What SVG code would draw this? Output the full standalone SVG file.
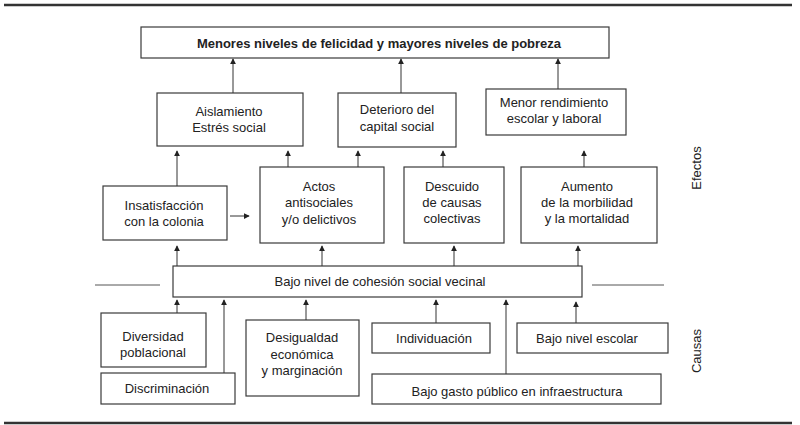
<svg xmlns="http://www.w3.org/2000/svg" width="800" height="425" viewBox="0 0 800 425">
<defs>
<marker id="ah" viewBox="0 0 8 8" refX="7" refY="4" markerWidth="6" markerHeight="6" markerUnits="userSpaceOnUse" orient="auto">
<path d="M0,0 L8,4 L0,8 z" fill="#222"/>
</marker>
<style>
.box{fill:#fff;stroke:#3a3a3a;stroke-width:1.2}
.t{font-family:"Liberation Sans",Arial,sans-serif;font-size:13px;fill:#222;text-anchor:middle}
.b{font-weight:bold}
.c{stroke:#333;stroke-width:1;fill:none;marker-end:url(#ah)}
.rule{stroke:#333;stroke-width:2.5}
.side{stroke:#555;stroke-width:1}
</style>
</defs>
<rect width="800" height="425" fill="#fff"/>
<line class="rule" x1="4" y1="5" x2="792" y2="5"/>
<line class="rule" x1="4" y1="423" x2="792" y2="423"/>

<g id="top"><rect class="box" x="141" y="27" width="468" height="31"/><text class="t b" x="379" y="48">Menores niveles de felicidad y mayores niveles de pobreza</text></g>
<g id="aislamiento"><rect class="box" x="157" y="93" width="146" height="53"/><text class="t" x="229" y="116">Aislamiento</text><text class="t" x="229" y="132">Estrés social</text></g>
<g id="deterioro"><rect class="box" x="338" y="93" width="118" height="54"/><text class="t" x="397" y="114">Deterioro del</text><text class="t" x="397" y="131">capital social</text></g>
<g id="menor"><rect class="box" x="486" y="89" width="140" height="46"/><text class="t" x="554" y="107">Menor rendimiento</text><text class="t" x="554" y="123">escolar y laboral</text></g>

<g id="insatisfaccion"><rect class="box" x="103" y="186" width="124" height="54"/><text class="t" x="164" y="210">Insatisfacción</text><text class="t" x="164" y="226">con la colonia</text></g>
<g id="actos"><rect class="box" x="260" y="167" width="124" height="76"/><text class="t" x="319" y="191">Actos</text><text class="t" x="319" y="207">antisociales</text><text class="t" x="319" y="224">y/o delictivos</text></g>
<g id="descuido"><rect class="box" x="404" y="167" width="100" height="76"/><text class="t" x="452" y="191">Descuido</text><text class="t" x="452" y="207">de causas</text><text class="t" x="452" y="223">colectivas</text></g>
<g id="aumento"><rect class="box" x="521" y="167" width="136" height="76"/><text class="t" x="587" y="191">Aumento</text><text class="t" x="587" y="207">de la morbilidad</text><text class="t" x="587" y="223">y la mortalidad</text></g>

<g id="cohesion"><rect class="box" x="173" y="266" width="409" height="31"/><text class="t" x="380" y="286">Bajo nivel de cohesión social vecinal</text></g>
<line class="side" x1="95" y1="285" x2="160" y2="285"/>
<line class="side" x1="592" y1="285" x2="664" y2="285"/>

<g id="diversidad"><rect class="box" x="101" y="313" width="105" height="54"/><text class="t" x="153" y="341">Diversidad</text><text class="t" x="153" y="357">poblacional</text></g>
<g id="discriminacion"><rect class="box" x="101" y="373" width="134" height="31"/><text class="t" x="167" y="393">Discriminación</text></g>
<g id="desigualdad"><rect class="box" x="246" y="320" width="113" height="76"/><text class="t" x="302" y="342">Desigualdad</text><text class="t" x="302" y="359">económica</text><text class="t" x="302" y="375">y marginación</text></g>
<g id="individuacion"><rect class="box" x="372" y="323" width="118" height="30"/><text class="t" x="434" y="343">Individuación</text></g>
<g id="escolar"><rect class="box" x="517" y="323" width="151" height="30"/><text class="t" x="587" y="343">Bajo nivel escolar</text></g>
<g id="gasto"><rect class="box" x="372" y="374" width="289" height="30"/><text class="t" x="517" y="396">Bajo gasto público en infraestructura</text></g>

<g id="labels">
<text class="t" transform="translate(701,168) rotate(-90)">Efectos</text>
<text class="t" transform="translate(701,351) rotate(-90)">Causas</text>
</g>

<g id="connectors">
<path class="c" d="M233,93 V59"/>
<path class="c" d="M401,93 V59"/>
<path class="c" d="M558,89 V59"/>
<path class="c" d="M177,186 V151"/>
<path class="c" d="M288,167 V151"/>
<path class="c" d="M358,167 V151"/>
<path class="c" d="M443,167 V151"/>
<path class="c" d="M584,167 V151"/>
<path class="c" d="M230,216 H249"/>
<path class="c" d="M177,266 V246"/>
<path class="c" d="M322,266 V246"/>
<path class="c" d="M454,266 V246"/>
<path class="c" d="M578,266 V246"/>
<path class="c" d="M177,313 V300"/>
<path class="c" d="M224,373 V300"/>
<path class="c" d="M306,320 V300"/>
<path class="c" d="M436,323 V300"/>
<path class="c" d="M506,374 V300"/>
<path class="c" d="M576,323 V302"/>
</g>
</svg>
